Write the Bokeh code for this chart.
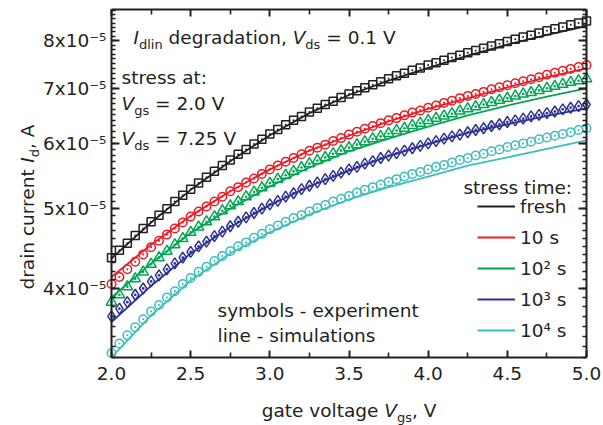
import math
from bokeh.plotting import figure
from bokeh.core.properties import value
from bokeh.models import (Range1d, FixedTicker, LogAxis, LinearAxis, CustomJSTickFormatter,
                          NumeralTickFormatter, Label, Legend, LegendItem)
from bokeh.embed import file_html
from bokeh.resources import INLINE

# ---------------- data ----------------
vgs_exp = [2.00, 2.05, 2.10, 2.15, 2.20, 2.25, 2.30, 2.35, 2.40, 2.45,
           2.50, 2.55, 2.60, 2.65, 2.70, 2.75, 2.80, 2.85, 2.90, 2.95,
           3.00, 3.05, 3.10, 3.15, 3.20, 3.25, 3.30, 3.35, 3.40, 3.45,
           3.50, 3.55, 3.60, 3.65, 3.70, 3.75, 3.80, 3.85, 3.90, 3.95,
           4.00, 4.05, 4.10, 4.15, 4.20, 4.25, 4.30, 4.35, 4.40, 4.45,
           4.50, 4.55, 4.60, 4.65, 4.70, 4.75, 4.80, 4.85, 4.90, 4.95, 5.00]

id_fresh_exp = [4.36e-5, 4.45e-5, 4.54e-5, 4.64e-5, 4.73e-5, 4.82e-5, 4.91e-5, 5.00e-5, 5.10e-5, 5.19e-5,
                5.28e-5, 5.37e-5, 5.46e-5, 5.55e-5, 5.64e-5, 5.73e-5, 5.82e-5, 5.90e-5, 5.99e-5, 6.07e-5,
                6.16e-5, 6.24e-5, 6.32e-5, 6.40e-5, 6.47e-5, 6.55e-5, 6.62e-5, 6.69e-5, 6.75e-5, 6.82e-5,
                6.89e-5, 6.95e-5, 7.01e-5, 7.07e-5, 7.13e-5, 7.19e-5, 7.25e-5, 7.30e-5, 7.36e-5, 7.41e-5,
                7.47e-5, 7.52e-5, 7.57e-5, 7.63e-5, 7.68e-5, 7.73e-5, 7.78e-5, 7.83e-5, 7.88e-5, 7.93e-5,
                7.98e-5, 8.03e-5, 8.08e-5, 8.12e-5, 8.17e-5, 8.22e-5, 8.27e-5, 8.31e-5, 8.36e-5, 8.40e-5, 8.45e-5]

id_10s_exp = [4.05e-5, 4.13e-5, 4.22e-5, 4.31e-5, 4.40e-5, 4.49e-5, 4.57e-5, 4.65e-5, 4.73e-5, 4.81e-5,
              4.89e-5, 4.96e-5, 5.03e-5, 5.10e-5, 5.17e-5, 5.25e-5, 5.31e-5, 5.38e-5, 5.44e-5, 5.51e-5,
              5.58e-5, 5.64e-5, 5.70e-5, 5.76e-5, 5.82e-5, 5.88e-5, 5.93e-5, 5.98e-5, 6.04e-5, 6.09e-5,
              6.15e-5, 6.20e-5, 6.25e-5, 6.30e-5, 6.35e-5, 6.40e-5, 6.44e-5, 6.49e-5, 6.54e-5, 6.58e-5,
              6.63e-5, 6.67e-5, 6.72e-5, 6.76e-5, 6.81e-5, 6.85e-5, 6.89e-5, 6.93e-5, 6.98e-5, 7.02e-5,
              7.06e-5, 7.10e-5, 7.14e-5, 7.18e-5, 7.22e-5, 7.27e-5, 7.31e-5, 7.35e-5, 7.39e-5, 7.43e-5, 7.47e-5]

id_1e2s_exp = [3.85e-5, 3.93e-5, 4.02e-5, 4.11e-5, 4.19e-5, 4.28e-5, 4.36e-5, 4.44e-5, 4.52e-5, 4.60e-5,
               4.68e-5, 4.75e-5, 4.82e-5, 4.89e-5, 4.97e-5, 5.04e-5, 5.10e-5, 5.17e-5, 5.24e-5, 5.30e-5,
               5.37e-5, 5.43e-5, 5.49e-5, 5.55e-5, 5.61e-5, 5.67e-5, 5.72e-5, 5.77e-5, 5.83e-5, 5.88e-5,
               5.93e-5, 5.98e-5, 6.03e-5, 6.08e-5, 6.12e-5, 6.17e-5, 6.22e-5, 6.26e-5, 6.31e-5, 6.35e-5,
               6.40e-5, 6.44e-5, 6.48e-5, 6.52e-5, 6.57e-5, 6.61e-5, 6.65e-5, 6.69e-5, 6.73e-5, 6.77e-5,
               6.81e-5, 6.85e-5, 6.89e-5, 6.92e-5, 6.96e-5, 7.00e-5, 7.04e-5, 7.08e-5, 7.12e-5, 7.15e-5, 7.19e-5]

id_1e3s_exp = [3.70e-5, 3.78e-5, 3.85e-5, 3.93e-5, 4.00e-5, 4.08e-5, 4.15e-5, 4.22e-5, 4.29e-5, 4.36e-5,
               4.43e-5, 4.50e-5, 4.56e-5, 4.63e-5, 4.69e-5, 4.76e-5, 4.82e-5, 4.88e-5, 4.94e-5, 5.00e-5,
               5.06e-5, 5.11e-5, 5.17e-5, 5.22e-5, 5.28e-5, 5.33e-5, 5.38e-5, 5.43e-5, 5.48e-5, 5.53e-5,
               5.58e-5, 5.62e-5, 5.67e-5, 5.71e-5, 5.76e-5, 5.80e-5, 5.84e-5, 5.88e-5, 5.92e-5, 5.96e-5,
               6.00e-5, 6.04e-5, 6.08e-5, 6.12e-5, 6.15e-5, 6.19e-5, 6.23e-5, 6.26e-5, 6.30e-5, 6.33e-5,
               6.37e-5, 6.40e-5, 6.43e-5, 6.47e-5, 6.50e-5, 6.53e-5, 6.56e-5, 6.60e-5, 6.63e-5, 6.66e-5, 6.69e-5]

id_1e4s_exp = [3.34e-5, 3.43e-5, 3.51e-5, 3.59e-5, 3.67e-5, 3.75e-5, 3.82e-5, 3.90e-5, 3.97e-5, 4.05e-5,
               4.12e-5, 4.19e-5, 4.25e-5, 4.32e-5, 4.38e-5, 4.44e-5, 4.50e-5, 4.55e-5, 4.61e-5, 4.66e-5,
               4.72e-5, 4.77e-5, 4.82e-5, 4.87e-5, 4.91e-5, 4.96e-5, 5.01e-5, 5.05e-5, 5.10e-5, 5.14e-5,
               5.18e-5, 5.23e-5, 5.27e-5, 5.31e-5, 5.35e-5, 5.39e-5, 5.43e-5, 5.47e-5, 5.51e-5, 5.54e-5,
               5.58e-5, 5.62e-5, 5.65e-5, 5.69e-5, 5.73e-5, 5.76e-5, 5.80e-5, 5.83e-5, 5.87e-5, 5.90e-5,
               5.94e-5, 5.97e-5, 6.00e-5, 6.03e-5, 6.07e-5, 6.10e-5, 6.13e-5, 6.16e-5, 6.19e-5, 6.23e-5, 6.26e-5]

vgs_sim = [2.00, 2.25, 2.50, 2.75, 3.00, 3.25, 3.50, 3.75, 4.00, 4.25, 4.50, 4.75, 5.00]
id_fresh_sim = [4.35e-5, 4.81e-5, 5.27e-5, 5.71e-5, 6.14e-5, 6.53e-5, 6.87e-5, 7.15e-5, 7.41e-5, 7.67e-5, 7.91e-5, 8.13e-5, 8.33e-5]
id_10s_sim = [4.13e-5, 4.52e-5, 4.90e-5, 5.25e-5, 5.58e-5, 5.88e-5, 6.13e-5, 6.38e-5, 6.61e-5, 6.81e-5, 7.02e-5, 7.22e-5, 7.40e-5]
id_1e2s_sim = [3.90e-5, 4.29e-5, 4.67e-5, 5.00e-5, 5.32e-5, 5.61e-5, 5.87e-5, 6.08e-5, 6.29e-5, 6.49e-5, 6.67e-5, 6.84e-5, 7.00e-5]
id_1e3s_sim = [3.64e-5, 4.03e-5, 4.41e-5, 4.75e-5, 5.05e-5, 5.32e-5, 5.56e-5, 5.79e-5, 5.99e-5, 6.18e-5, 6.33e-5, 6.48e-5, 6.62e-5]
id_1e4s_sim = [3.30e-5, 3.71e-5, 4.09e-5, 4.41e-5, 4.68e-5, 4.92e-5, 5.13e-5, 5.31e-5, 5.47e-5, 5.64e-5, 5.77e-5, 5.91e-5, 6.05e-5]

stress_labels = ["fresh", "10 s", "10\u00b2 s", "10\u00b3 s", "10\u2074 s"]
x_ticks = [2.0, 2.5, 3.0, 3.5, 4.0, 4.5, 5.0]
x_minor_ticks = [2.25, 2.75, 3.25, 3.75, 4.25, 4.75]
y_ticks = [4e-5, 5e-5, 6e-5, 7e-5, 8e-5]
y_minor_ticks = [k * 1e-6 for k in range(33, 88)]

# ---------------- style ----------------
FONT = "DejaVu Sans"
FS = 18.5
SUB_FS = 13.0
SUB_DROP = 7.0
TXT = "#231f20"
colors = ["#231f20", "#ed1c24", "#00a651", "#2e3192", "#3fbfbc"]
markers = ["square_dot", "circle_dot", "triangle_dot", "diamond_dot", "circle_dot"]
msizes = [8, 8.5, 10.5, 11, 8.5]

W, H = 603, 425
X0, X1 = 2.0, 5.0
YLO, YHI = 3.298e-5, 8.725e-5
FL, FR, FT, FB = 111, 586, 9, 357  # data box edges in page pixels


def dx(px):
    return X0 + (px - FL) / (FR - FL) * (X1 - X0)


def dy(py):
    a, b = math.log10(YLO), math.log10(YHI)
    return 10 ** (a + (FB - py) / (FB - FT) * (b - a))


ADV = {" ": 0.318, ",": 0.318, ".": 0.318, ":": 0.337, "=": 0.838, "-": 0.361,
       "A": 0.684, "I": 0.295, "V": 0.684, "a": 0.613, "b": 0.635, "c": 0.550,
       "d": 0.635, "e": 0.615, "g": 0.635, "i": 0.278, "l": 0.278, "m": 0.974,
       "n": 0.634, "o": 0.612, "p": 0.635, "r": 0.411, "s": 0.521, "t": 0.392,
       "u": 0.634, "v": 0.592, "x": 0.592, "y": 0.592}
for d in "0123456789":
    ADV[d] = 0.636


def tw(s, fs):
    return sum(ADV.get(ch, 0.6) for ch in s) * fs


# the frame fills the whole page; the axes are pinned to the data box edges
p = figure(width=W, height=H, x_range=Range1d(dx(0), dx(W)), y_range=Range1d(dy(H), dy(0)),
           y_axis_type="log", x_axis_location=None, y_axis_location=None,
           output_backend="svg", toolbar_location=None, min_border=0)
p.grid.visible = False
p.outline_line_color = None
p.background_fill_color = "white"
p.border_fill_color = "white"


def place_runs(parts, px, py, align="left", vertical=False):
    sizes = [SUB_FS if st == "s" else FS for _, st in parts]
    total = sum(tw(t, fs) for (t, _), fs in zip(parts, sizes))
    pos = {"left": 0.0, "right": -total, "center": -total / 2}[align]
    for (t, st), fs in zip(parts, sizes):
        drop = SUB_DROP if st == "s" else 0.0
        lead = len(t) - len(t.lstrip())
        shown = t.strip()
        start = pos + tw(t[:lead], fs)
        if vertical:
            X, Y, ang = px + drop, py - start, math.pi / 2
        else:
            X, Y, ang = px + start, py + drop, 0.0
        p.add_layout(Label(x=dx(X), y=dy(Y), text=shown, angle=ang, text_font=FONT,
                           text_font_size=f"{fs}px",
                           text_font_style="italic" if st == "i" else "normal",
                           text_color=TXT, text_align="left", text_baseline="alphabetic"))
        pos += tw(t, fs)


# ---------------- axes ----------------
xt = FixedTicker(ticks=x_ticks, minor_ticks=x_minor_ticks)
yt = FixedTicker(ticks=y_ticks, minor_ticks=y_minor_ticks)
blank = "return '';"


def style_axis(ax, major_in, minor_in):
    ax.axis_line_width = 2
    ax.axis_line_color = TXT
    ax.major_tick_in = major_in
    ax.major_tick_out = 0
    ax.minor_tick_in = minor_in
    ax.minor_tick_out = 0
    ax.major_tick_line_width = 2
    ax.minor_tick_line_width = 1.6
    ax.major_tick_line_color = TXT
    ax.minor_tick_line_color = TXT
    ax.major_label_text_font = FONT
    ax.major_label_text_font_size = f"{FS}px"
    ax.major_label_text_color = TXT


xa = LinearAxis(ticker=xt, formatter=NumeralTickFormatter(format="0.0"),
                fixed_location=YLO, bounds=(X0, X1))
style_axis(xa, 7, 5)
xa.major_label_standoff = 9
p.add_layout(xa, "below")

ya = LogAxis(ticker=yt, formatter=CustomJSTickFormatter(
    code="return Math.round(tick * 1e5) + 'x10\u207b\u2075';"),
    fixed_location=X0, bounds=(YLO, YHI))
style_axis(ya, 8, 4)
ya.major_label_standoff = 5
p.add_layout(ya, "left")

top = LinearAxis(ticker=xt, formatter=CustomJSTickFormatter(code=blank),
                 fixed_location=YHI, bounds=(X0, X1))
style_axis(top, 7, 5)
p.add_layout(top, "above")

right = LogAxis(ticker=yt, formatter=CustomJSTickFormatter(code=blank),
                fixed_location=X1, bounds=(YLO, YHI))
style_axis(right, 8, 4)
p.add_layout(right, "right")

# ---------------- series ----------------
exp_series = [id_fresh_exp, id_10s_exp, id_1e2s_exp, id_1e3s_exp, id_1e4s_exp]
sim_series = [id_fresh_sim, id_10s_sim, id_1e2s_sim, id_1e3s_sim, id_1e4s_sim]

sim_renderers = []
for ys, c in zip(sim_series, colors):
    sim_renderers.append(p.line(vgs_sim, ys, line_color=c, line_width=1.8))

for ys, c, m, s in zip(exp_series, colors, markers, msizes):
    p.scatter(vgs_exp, ys, marker=m, size=s, line_color=c, fill_color=None, line_width=1.5)

legend = Legend(items=[LegendItem(label=value(lab), renderers=[r])
                       for lab, r in zip(stress_labels, sim_renderers)],
                location=(477, H - 341.4), orientation="vertical",
                glyph_width=38, glyph_height=22, label_height=22, label_width=20,
                label_standoff=5, spacing=9, padding=0, margin=0,
                border_line_color=None, background_fill_alpha=0,
                label_text_font=FONT, label_text_font_size=f"{FS}px",
                label_text_color=TXT)
p.add_layout(legend)

# ---------------- texts ----------------
place_runs([("I", "i"), ("dlin", "s"), (" degradation, ", "n"), ("V", "i"), ("ds", "s"),
            (" = 0.1 V", "n")], 133, 37)
place_runs([("stress at:", "n")], 121, 77)
place_runs([("V", "i"), ("gs", "s"), (" = 2.0 V", "n")], 121, 103)
place_runs([("V", "i"), ("ds", "s"), (" = 7.25 V", "n")], 121, 138)
place_runs([("stress time:", "n")], 572, 187, align="right")
place_runs([("symbols - experiment", "n")], 217, 310)
place_runs([("line - simulations", "n")], 217, 335)
place_runs([("gate voltage ", "n"), ("V", "i"), ("gs", "s"), (", V", "n")], 348.5, 410,
           align="center")
place_runs([("drain current ", "n"), ("I", "i"), ("d", "s"), (", A", "n")], 27, 289,
           vertical=True)

open("out.html", "w").write(file_html(p, INLINE))
